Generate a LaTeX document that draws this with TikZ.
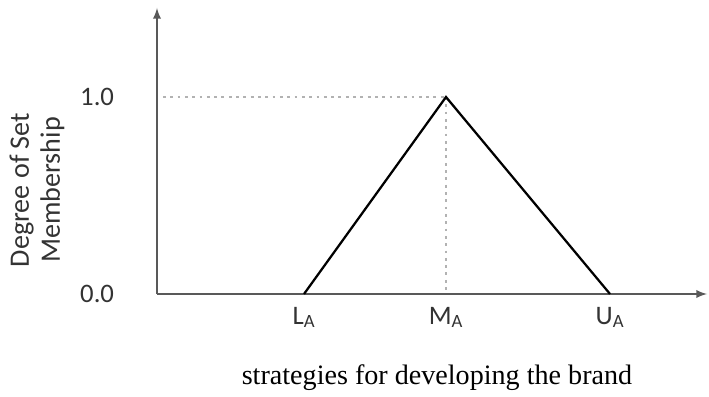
\documentclass[tikz,border=0pt]{standalone}
\usepackage{fontspec}
\setmainfont{Liberation Serif}
\newfontfamily\calibrifont{Carlito}

\begin{document}
\begin{tikzpicture}[
    axis/.style={-latex, line width=1.6pt, draw=black!65},
    guide/.style={dash pattern=on 2pt off 3.2pt, line width=2pt, draw=black!30},
    member/.style={line width=1.6pt, draw=black},
    tick/.style={font=\calibrifont\fontsize{19}{22}\selectfont, text=black!80}
]
\useasboundingbox (-3.925,-2.55) rectangle (13.8,7.35);

\coordinate (O) at (0,0);
\coordinate (Ytop) at (0,7.15);
\coordinate (Xend) at (13.75,0);

\coordinate (LA) at (3.675,0);
\coordinate (MA) at (7.225,0);
\coordinate (UA) at (11.325,0);
\coordinate (Peak) at (7.225,4.925);
\coordinate (Yone) at (0.15,4.925);

\draw[guide] (Yone) -- (Peak);
\draw[guide] (Peak) -- (MA);

\draw[axis] (O) -- (Ytop);
\draw[axis] (O) -- (Xend);

\draw[member] (LA) -- (Peak) -- (UA);

\node[tick, anchor=east] (one) at (-0.95,4.925) {1.0};
\node[tick, anchor=east] (zero) at (-0.95,0) {0.0};

\node[tick, below=0.2cm] (lA) at (LA) {L\textsubscript{A}};
\node[tick, below=0.2cm] (mA) at (MA) {M\textsubscript{A}};
\node[tick, below=0.2cm] (uA) at (UA) {U\textsubscript{A}};

\node[tick, font=\calibrifont\fontsize{20}{22}\selectfont, rotate=90, align=center] (ylabel) at (-3.0,2.6) {Degree of Set\\Membership};

\node[font=\fontsize{20}{23}\selectfont] (xlabel) at (7.0,-2.1) {strategies for developing the brand};

\end{tikzpicture}
\end{document}
